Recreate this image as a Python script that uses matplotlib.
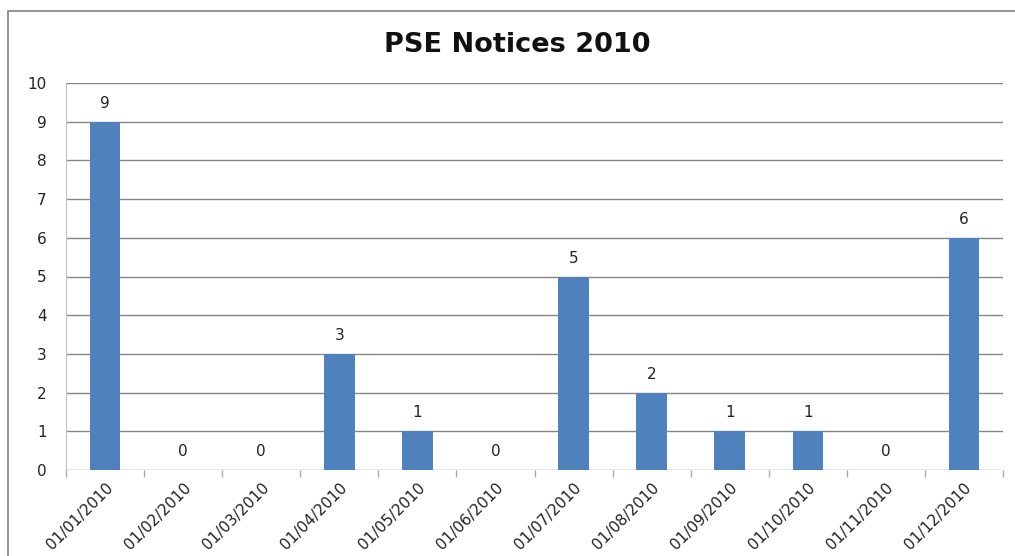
import matplotlib.pyplot as plt
from matplotlib.patches import Rectangle

# chart data
months = ["01/01/2010", "01/02/2010", "01/03/2010", "01/04/2010",
          "01/05/2010", "01/06/2010", "01/07/2010", "01/08/2010",
          "01/09/2010", "01/10/2010", "01/11/2010", "01/12/2010"]
notices = [9, 0, 0, 3, 1, 0, 5, 2, 1, 1, 0, 6]
y_ticks = list(range(0, 11))

W, H = 1015, 556
fig = plt.figure(figsize=(W / 100, H / 100), dpi=100)
fig.patch.set_facecolor("white")

# outer chart border (runs off the right and bottom edges)
fig.patches.append(Rectangle((8 / W, -0.2), 1.2, 1.2 - 11 / H, transform=fig.transFigure,
                             fill=False, edgecolor="#7f7f7f", linewidth=1.2))

left, right, top, bottom = 66, 1003, 83, 470
ax = fig.add_axes([left / W, 1 - bottom / H, (right - left) / W, (bottom - top) / H])

x = list(range(len(months)))
ax.bar(x, notices, width=0.39, color="#4F81BD", zorder=3)

for xi, v in zip(x, notices):
    ax.text(xi, v + 0.28, str(v), ha="center", va="bottom", fontsize=11,
            color="#222222", family="DejaVu Sans")

ax.set_xlim(-0.5, len(months) - 0.5)
ax.set_ylim(0, 10)
ax.set_yticks(y_ticks)
ax.set_yticklabels([str(t) for t in y_ticks], fontsize=11, color="#222222")
ax.yaxis.grid(True, color="#868686", linewidth=1, zorder=0)
ax.tick_params(axis="y", length=0, pad=14)

# category boundary ticks, labels centred on bars
ax.set_xticks([i - 0.5 for i in range(len(months) + 1)], minor=True)
ax.set_xticks(x)
ax.set_xticklabels(months, rotation=45, ha="right", rotation_mode="anchor",
                   fontsize=11, color="#222222")
ax.tick_params(axis="x", which="major", length=0, pad=7)
ax.tick_params(axis="x", which="minor", length=5, color="#aaaaaa", width=1)

for s in ["top", "right"]:
    ax.spines[s].set_visible(False)
ax.spines["bottom"].set_visible(False)
ax.spines["left"].set_color("#c0c0c0")

fig.text(517 / W, 1 - 45 / H, "PSE Notices 2010", ha="center", va="center",
         fontsize=19.5, fontweight="bold", family="DejaVu Sans", color="#111111")

fig.savefig("out.png", dpi=100)
